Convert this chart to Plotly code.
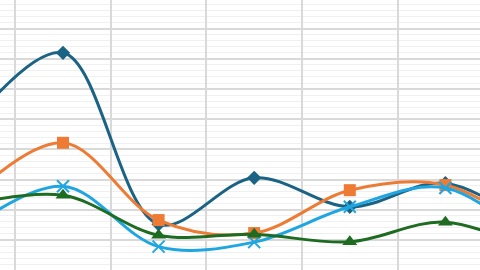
import plotly.graph_objects as go

categories = [0, 1, 2, 3, 4, 5, 6]
series_a = [47.0, 72.0, 15.2, 30.6, 21.0, 28.8, 12.0]   # dark blue, diamonds
series_b = [23.2, 42.2, 16.6, 12.3, 26.5, 28.2, 10.5]   # orange, squares
series_c = [13.2, 27.8, 7.8, 9.3, 21.0, 27.2, 6.5]      # light blue, crosses
series_d = [21.5, 24.8, 11.6, 11.9, 9.4, 15.9, 5.0]     # green, triangles

fig = go.Figure()

def add(vals, color, symbol, size, name, mline=0):
    fig.add_trace(go.Scatter(
        x=categories, y=vals, mode="lines+markers", name=name,
        line=dict(color=color, width=3, shape="spline", smoothing=1),
        marker=dict(symbol=symbol, size=size, color=color,
                    line=dict(color=color, width=mline)),
    ))

add(series_a, "#1A6384", "diamond", 11, "A")
add(series_b, "#EE7B33", "square", 12, "B")
add(series_c, "#1FA6E0", "x-thin-open", 12, "C", mline=2)
add(series_d, "#1E6B22", "triangle-up", 13, "D")

fig.update_layout(
    width=480, height=270,
    margin=dict(l=0, r=0, t=0, b=0),
    paper_bgcolor="white", plot_bgcolor="white",
    showlegend=False,
    xaxis=dict(range=[0.341, 5.362], tick0=0.5, dtick=1,
               showgrid=True, gridcolor="#D9D9D9", gridwidth=2,
               showticklabels=False, zeroline=False, showline=False, ticks=""),
    yaxis=dict(range=[0.06, 89.5], tick0=0, dtick=10,
               showgrid=True, gridcolor="#D9D9D9", gridwidth=2,
               minor=dict(dtick=2, showgrid=True, gridcolor="#F0F0F0", gridwidth=1),
               showticklabels=False, zeroline=False, showline=False, ticks=""),
)

fig.write_html("out.html")
